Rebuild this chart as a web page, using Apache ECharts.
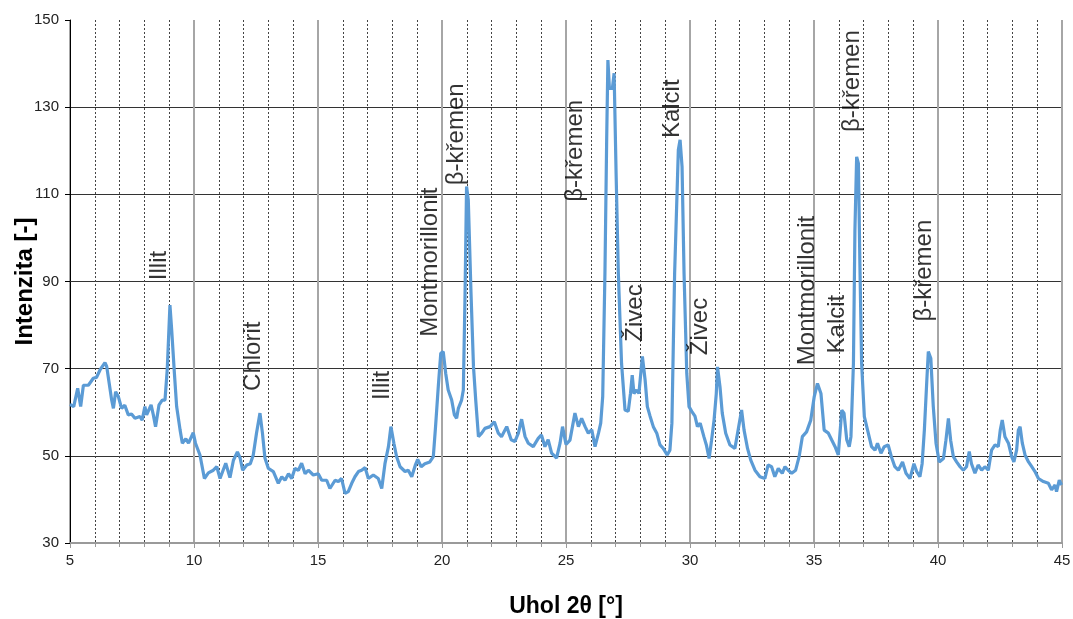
<!DOCTYPE html>
<html>
<head>
<meta charset="utf-8">
<script src="https://cdn.jsdelivr.net/npm/echarts@6/dist/echarts.min.js"></script>
<style>
html,body{margin:0;padding:0;background:#fff;}
#chart{width:1073px;height:619px;}
</style>
</head>
<body>
<div id="chart"></div>
<script>
// 2θ angle values (degrees)
const angle = [
5.00,5.04,5.15,5.31,5.43,5.54,5.74,5.94,6.07,6.21,6.41,6.48,6.68,6.75,6.84,6.95,7.08,7.21,7.35,7.48,
7.62,7.82,7.91,8.02,8.09,8.27,8.36,8.45,8.59,8.72,8.83,8.92,9.03,9.10,9.21,9.30,9.44,9.53,9.67,9.78,
9.97,10.06,10.14,10.24,10.42,10.58,10.78,10.92,11.05,11.28,11.45,11.59,11.75,11.86,11.96,12.13,12.27,12.39,12.52,12.66,
12.76,12.86,13.00,13.20,13.40,13.54,13.67,13.81,13.94,14.07,14.21,14.34,14.48,14.61,14.81,15.01,15.15,15.35,15.48,15.69,
15.82,15.95,16.09,16.22,16.36,16.49,16.63,16.76,16.90,17.03,17.23,17.43,17.57,17.70,17.84,17.94,18.06,18.17,18.31,18.51,
18.64,18.78,18.92,19.02,19.16,19.31,19.51,19.65,19.74,19.85,19.95,20.05,20.15,20.25,20.39,20.50,20.59,20.66,20.79,20.86,
20.93,20.99,21.06,21.17,21.27,21.36,21.47,21.60,21.73,21.94,22.11,22.27,22.40,22.61,22.79,22.94,23.08,23.21,23.35,23.48,
23.68,23.88,24.01,24.15,24.28,24.42,24.62,24.76,24.86,25.00,25.16,25.36,25.50,25.63,25.77,25.90,26.04,26.17,26.31,26.40,
26.48,26.57,26.64,26.69,26.75,26.87,26.94,27.02,27.11,27.24,27.38,27.51,27.60,27.67,27.74,27.85,27.94,28.08,28.19,28.28,
28.39,28.52,28.66,28.79,28.92,29.08,29.19,29.27,29.38,29.53,29.60,29.68,29.76,29.87,29.96,30.07,30.20,30.30,30.41,30.56,
30.66,30.77,30.87,30.97,31.06,31.11,31.21,31.30,31.44,31.61,31.81,31.94,32.08,32.18,32.32,32.45,32.62,32.82,33.02,33.15,
33.29,33.42,33.56,33.72,33.83,33.96,34.10,34.26,34.40,34.53,34.70,34.87,35.01,35.14,35.28,35.41,35.58,35.71,35.85,35.98,
36.12,36.21,36.32,36.42,36.49,36.59,36.65,36.72,36.79,36.85,36.92,37.03,37.16,37.32,37.46,37.56,37.70,37.83,37.99,38.12,
38.26,38.40,38.57,38.71,38.87,39.03,39.14,39.27,39.36,39.45,39.55,39.61,39.71,39.81,39.92,40.05,40.22,40.32,40.42,40.51,
40.62,40.75,40.89,41.02,41.15,41.26,41.35,41.49,41.62,41.76,41.89,42.03,42.16,42.30,42.43,42.51,42.59,42.70,42.84,42.97,
43.06,43.17,43.24,43.31,43.40,43.51,43.65,43.78,43.91,44.05,44.25,44.45,44.58,44.72,44.78,44.89,44.98
];
// intensity values
const intensity = [
61.8,62.0,61.3,65.5,61.3,66.2,66.2,67.8,68.0,69.7,71.4,70.5,62.8,60.9,64.7,63.6,60.9,61.6,59.4,59.6,
58.6,59.0,58.2,61.3,59.4,61.7,59.4,56.7,61.7,62.8,62.8,69.7,84.6,78.9,68.9,61.3,55.9,52.9,53.9,52.9,
55.3,52.9,53.2,50.2,44.8,46.1,46.7,47.5,44.8,48.3,45.0,49.0,50.9,49.5,46.7,47.9,48.2,50.2,55.2,59.8,
55.2,49.5,47.1,46.4,43.7,45.2,44.4,45.9,44.8,47.1,46.7,48.3,45.9,46.7,45.6,45.9,44.4,44.4,42.5,44.4,
44.1,44.8,41.4,41.8,43.7,45.2,46.4,46.7,47.3,44.8,45.6,44.8,42.5,48.2,52.1,56.7,52.9,49.8,47.5,46.4,
46.7,45.2,47.8,49.2,47.5,48.2,48.6,49.8,56.7,65.9,73.5,73.9,68.9,65.1,62.8,59.4,58.6,60.9,62.8,65.1,
87.3,111.8,108.7,87.3,70.4,62.8,54.4,55.2,56.3,56.7,57.8,55.2,54.4,56.7,53.7,53.3,55.2,58.4,54.4,52.9,
52.1,54.0,54.8,52.1,53.7,50.6,49.5,52.9,56.7,52.6,53.6,59.8,56.7,58.6,56.7,55.2,56.0,52.1,55.2,57.5,
63.6,91.9,122.5,140.8,134.3,134.3,137.8,114.8,91.9,71.2,60.5,60.2,64.3,68.5,64.3,65.1,64.3,72.8,67.4,61.3,
59.1,56.7,55.2,52.5,51.7,50.2,51.3,57.5,91.9,120.2,122.5,116.3,91.9,68.9,61.3,60.2,59.1,56.7,57.5,54.4,
52.5,49.4,53.6,58.2,64.3,70.4,65.8,59.8,55.2,52.5,51.7,55.9,60.5,55.9,51.7,49.0,46.7,45.2,44.8,47.9,
47.5,45.2,47.1,46.0,47.5,46.7,46.0,46.7,49.8,54.4,55.5,58.2,63.6,66.6,64.3,55.9,55.2,53.7,52.1,50.2,
60.5,59.8,53.7,52.1,54.4,71.2,101.8,118.6,117.1,94.2,71.2,59.0,55.9,52.1,51.3,52.9,50.6,52.1,52.5,49.8,
47.5,46.7,48.6,46.0,44.8,48.2,46.4,45.2,48.2,55.9,67.4,73.9,72.4,61.3,52.9,48.6,49.4,53.6,58.6,53.6,
49.8,48.6,47.5,46.7,47.5,51.0,48.2,46.0,47.9,46.7,47.5,46.7,51.3,52.5,52.1,55.9,58.2,54.4,52.9,49.8,
48.6,51.3,55.9,56.7,52.9,50.2,48.6,47.5,46.4,44.8,44.1,43.7,42.2,43.3,41.8,44.4,43.3
];
// peak annotations: name, angle and intensity where the (vertical) text starts
const peakNames  = ["Illit","Chlorit","Illit","Montmorillonit","β-křemen","β-křemen","Živec","Kalcit","Živec","Montmorillonit","Kalcit","β-křemen","β-křemen"];
const peakAngles = [8.62, 12.39, 17.59, 19.54, 20.59, 25.36, 27.80, 29.29, 30.40, 34.73, 35.94, 36.53, 39.44];
const peakLevels = [90.3, 64.9, 62.8, 77.3, 112.1, 108.3, 76.2, 122.9, 73.1, 70.8, 73.5, 124.3, 80.8];

const xTitle = "Uhol 2θ [°]";
const yTitle = "Intenzita [-]";

const lineData = angle.map((a, i) => [a, intensity[i]]);
const labelData = peakNames.map((n, i) => ({ value: [peakAngles[i], peakLevels[i]], name: n }));

const chart = echarts.init(document.getElementById('chart'), null, { renderer: 'canvas' });
chart.setOption({
  animation: false,
  backgroundColor: '#ffffff',
  grid: { left: 70, right: 11, top: 20, bottom: 76, containLabel: false, outerBoundsMode: 'none' },
  xAxis: {
    type: 'value', min: 5, max: 45, interval: 5,
    name: xTitle, nameLocation: 'middle', nameGap: 52, nameMoveOverlap: false,
    nameTextStyle: { fontFamily: 'Liberation Sans, Arial, sans-serif', fontWeight: 'bold', fontSize: 23, color: '#000' },
    axisLine: { show: true, lineStyle: { color: '#9a9a9a', width: 2 } },
    axisTick: { show: true, length: 5, lineStyle: { color: '#9a9a9a' } },
    minorTick: { show: true, splitNumber: 5, length: 4, lineStyle: { color: '#9a9a9a' } },
    axisLabel: { fontFamily: 'Liberation Sans Narrow, Liberation Sans, Arial, sans-serif', fontSize: 15, color: '#222', margin: 10 },
    splitLine: { show: true, lineStyle: { color: '#a6a6a6', width: 2 } },
    minorSplitLine: { show: true, lineStyle: { color: '#444', width: 1, type: [2, 2] } }
  },
  yAxis: {
    type: 'value', min: 30, max: 150, interval: 20,
    name: yTitle, nameLocation: 'middle', nameGap: 33, nameRotate: 90, nameMoveOverlap: false,
    nameTextStyle: { fontFamily: 'Liberation Sans, Arial, sans-serif', fontWeight: 'bold', fontSize: 24, color: '#000' },
    axisLine: { show: true, lineStyle: { color: '#000', width: 1 } },
    axisTick: { show: true, length: 5, lineStyle: { color: '#000' } },
    axisLabel: { fontFamily: 'Liberation Sans, Arial, sans-serif', fontSize: 15, color: '#222', margin: 11 },
    splitLine: { show: true, showMaxLine: false, lineStyle: { color: '#333', width: 1 } }
  },
  series: [
    {
      type: 'line', data: lineData, showSymbol: false, symbol: 'none',
      lineStyle: { color: '#5B9BD5', width: 3.2 }, smooth: false, z: 3
    },
    {
      type: 'scatter', data: labelData, symbolSize: 0, z: 4, silent: true,
      label: {
        show: true, formatter: p => p.name, rotate: 90, position: [0, 0],
        align: 'left', verticalAlign: 'middle',
        fontFamily: 'Liberation Sans, Arial, sans-serif', fontSize: 24, color: '#000'
      }
    }
  ]
});
</script>
</body>
</html>
